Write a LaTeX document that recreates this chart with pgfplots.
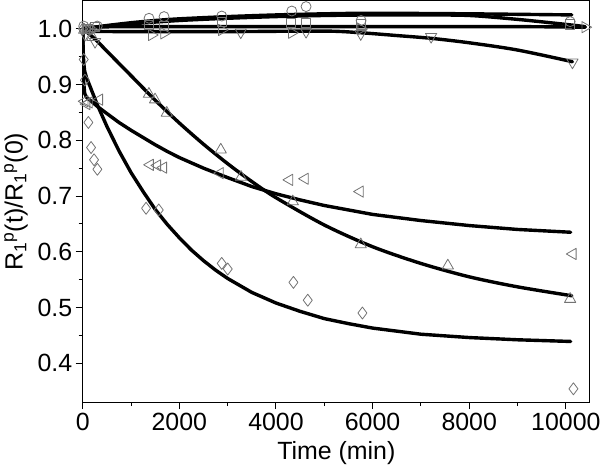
\documentclass[border=0pt]{standalone}
\usepackage{fontspec}
\setmainfont{Liberation Sans}
\usepackage{pgfplots}
\pgfplotsset{compat=1.18}
\definecolor{mkgray}{RGB}{115,115,115}
\begin{document}
\begin{tikzpicture}
\begin{axis}[name=ax, scale only axis, width=507bp, height=401bp,
  xmin=0, xmax=10500, ymin=0.33, ymax=1.05,
  xtick={0,2000,4000,6000,8000,10000},
  ytick={0.4,0.5,0.6,0.7,0.8,0.9,1.0},
  minor x tick num=1, minor y tick num=1,
  tick align=outside, major tick length=7bp, minor tick length=4bp,
  xtick pos=left, ytick pos=left,
  tick style={black, line width=1bp},
  axis line style={line width=1bp},
  scaled x ticks=false,
  xticklabel style={/pgf/number format/.cd, fixed, set thousands separator={}},
  yticklabel style={/pgf/number format/.cd, fixed, fixed zerofill, precision=1},
  /pgf/number format/assume math mode=true,
  ticklabel style={font=\fontsize{25}{28}\selectfont},
  label style={font=\fontsize{25}{28}\selectfont},
  xlabel={Time (min)},
  xlabel style={yshift=-4bp},
  ylabel={R\textsubscript{1}\textsuperscript{p}(t)/R\textsubscript{1}\textsuperscript{p}(0)},
  ylabel style={yshift=3bp},
  every axis plot/.append style={line cap=round, line join=round},
]
% ---------- markers ----------
\addplot[only marks, mark=o, mark size=5bp, mark options={draw=mkgray, line width=0.8bp}] coordinates {
(20,1.005) (150,1.0) (300,1.005) (1372,1.019) (1683,1.022) (2877,1.023) (4327,1.032) (4623,1.040) (5762,1.015) (10089,1.013)};
\addplot[only marks, mark=square, mark size=4.5bp, mark options={draw=mkgray, line width=0.8bp}] coordinates {
(100,1.0) (250,1.003) (1372,1.007) (1683,1.005) (2877,1.013) (4313,1.010) (4623,1.011) (5762,1.008) (10089,1.008)};
\addplot[only marks, mark=triangle, mark size=6.5bp, mark options={draw=mkgray, line width=0.8bp, rotate=-90}] coordinates {
(60,1.0) (200,0.998) (1428,0.989) (1683,0.992) (2877,0.998) (4327,0.993) (5762,1.0) (10400,1.003)};
\addplot[only marks, mark=triangle, mark size=6.5bp, mark options={draw=mkgray, line width=0.8bp, rotate=180}] coordinates {
(50,0.99) (255,0.977) (3271,0.994) (4623,0.995) (5755,0.991) (7211,0.986) (10137,0.940)};
\addplot[only marks, mark=triangle, mark size=6.5bp, mark options={draw=mkgray, line width=0.8bp}] coordinates {
(30,0.998) (200,0.985) (1370,0.883) (1497,0.873) (1739,0.849) (2857,0.783) (3277,0.734) (4348,0.690) (5755,0.613) (7557,0.575) (10089,0.515)};
\addplot[only marks, mark=triangle, mark size=6.5bp, mark options={draw=mkgray, line width=0.8bp, rotate=90}] coordinates {
(40,0.870) (80,0.865) (130,0.868) (344,0.873) (1395,0.756) (1545,0.755) (1669,0.751) (2843,0.741) (4278,0.729) (4602,0.731) (5741,0.708) (10145,0.596)};
\addplot[only marks, mark=diamond, mark size=6bp, mark options={draw=mkgray, line width=0.8bp}] coordinates {
(5,1.0) (20,0.945) (45,0.908) (117,0.832) (172,0.787) (234,0.765) (303,0.748) (1311,0.678) (1573,0.675) (2877,0.579) (3001,0.569) (4361,0.545) (4658,0.513) (5789,0.490) (10157,0.354)};
% ---------- fitted curves ----------
\addplot[black, line width=3.4bp, smooth] coordinates {
(0,1.0) (250,1.003) (500,1.006) (1000,1.011) (1500,1.015) (2000,1.018) (3000,1.022) (4000,1.025) (5000,1.027) (6000,1.028) (8000,1.027) (10124,1.025)};
\addplot[black, line width=3.4bp, smooth] coordinates {
(0,1.0) (500,1.005) (1000,1.009) (2000,1.015) (3000,1.019) (4000,1.022) (5000,1.024) (6000,1.025) (7000,1.025) (8000,1.024) (9000,1.017) (10000,1.008) (10400,1.004)};
\addplot[black, line width=3.4bp, smooth] coordinates {
(0,1.0) (200,1.003) (1000,1.004) (3000,1.004) (5000,1.004) (7000,1.004) (9000,1.004) (10400,1.003)};
\addplot[black, line width=3.4bp, smooth] coordinates {
(0,1.0) (100,0.996) (1000,0.995) (3000,0.995) (5000,0.996) (5755,0.993) (6500,0.988) (7211,0.983) (8000,0.975) (9000,0.962) (10137,0.941)};
\addplot[black, line width=3.4bp, smooth] coordinates {
(0,1.0) (250,0.982) (500,0.960) (1000,0.916) (1500,0.872) (2000,0.831) (2500,0.793) (3000,0.758) (3500,0.726) (4000,0.697) (5000,0.648) (6000,0.609) (7000,0.579) (8000,0.555) (9000,0.537) (10124,0.521)};
\addplot[black, line width=3.4bp] coordinates {
(0,1.0) (5,0.960) (10,0.933) (20,0.904) (40,0.884) (80,0.877) (150,0.872) (300,0.861) (500,0.848) (750,0.832) (1000,0.818) (1250,0.805) (1500,0.792) (1750,0.780) (2000,0.769) (2500,0.750) (3000,0.733) (3500,0.717) (4000,0.704) (4500,0.693) (5000,0.683) (5500,0.675) (6000,0.667) (7000,0.656) (8000,0.647) (9000,0.640) (10100,0.635)};
\addplot[black, line width=3.4bp] coordinates {
(0,1.0) (5,0.975) (10,0.959) (20,0.939) (40,0.924) (80,0.912) (150,0.897) (300,0.864) (500,0.825) (750,0.781) (1000,0.742) (1250,0.708) (1500,0.676) (1750,0.649) (2000,0.625) (2250,0.603) (2500,0.584) (2750,0.567) (3000,0.552) (3500,0.527) (4000,0.508) (4500,0.493) (5000,0.480) (5500,0.471) (6000,0.463) (7000,0.452) (8000,0.446) (9000,0.442) (10100,0.439)};
\end{axis}
\pgfresetboundingbox
\path ([xshift=-82.7bp,yshift=-63bp]ax.south west) rectangle ([xshift=10bp,yshift=1bp]ax.north east);
\end{tikzpicture}
\end{document}
